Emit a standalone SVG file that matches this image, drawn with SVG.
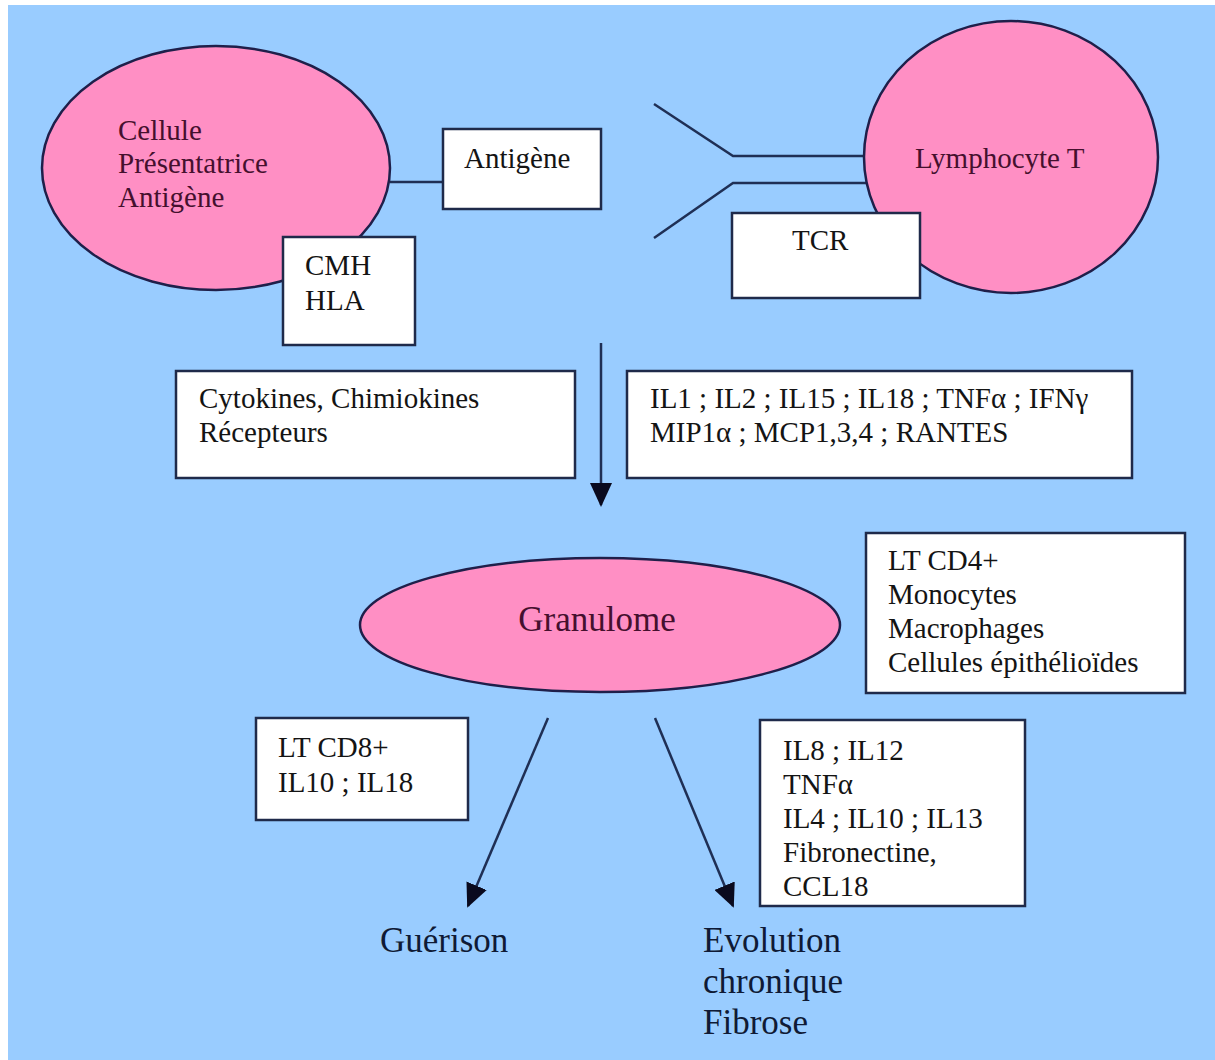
<svg xmlns="http://www.w3.org/2000/svg" width="1215" height="1060" viewBox="0 0 1215 1060">
<defs>
<marker id="ah" markerWidth="24" markerHeight="22" refX="22" refY="11" orient="auto" markerUnits="userSpaceOnUse">
<path d="M0,0 L24,11 L0,22 Z" fill="#0a0a1e"/>
</marker>
<style>
.bg{fill:#99ccff}
.cell{fill:#ff8fc4;stroke:#1f1f4a;stroke-width:2.5}
.box{fill:#ffffff;stroke:#1f2a4a;stroke-width:2.5}
.ln{fill:none;stroke:#1f2f55;stroke-width:2.5}
.t{font-family:"Liberation Serif","Times New Roman",serif;font-size:29px;fill:#141414}
.tc{font-family:"Liberation Serif","Times New Roman",serif;font-size:29px;fill:#45102e}
.tb{font-family:"Liberation Serif","Times New Roman",serif;font-size:35px;fill:#0f1a35}
</style>
</defs>
<rect x="0" y="0" width="1215" height="1060" fill="#ffffff"/>
<rect class="bg" x="8" y="5" width="1207" height="1055"/>
<g id="connectors">
<line class="ln" x1="390" y1="182" x2="443" y2="182"/>
<polyline class="ln" points="654,104 733,156 866,156"/>
<polyline class="ln" points="654,238 733,183 867,183"/>
<line class="ln" x1="601" y1="343" x2="601" y2="505" marker-end="url(#ah)"/>
<line class="ln" x1="548" y1="718" x2="468" y2="906" marker-end="url(#ah)"/>
<line class="ln" x1="655" y1="718" x2="733" y2="906" marker-end="url(#ah)"/>
</g>
<g id="cpa">
<ellipse class="cell" cx="216" cy="168" rx="174" ry="122"/>
<text class="tc" x="118" y="140">Cellule</text>
<text class="tc" x="118" y="173">Présentatrice</text>
<text class="tc" x="118" y="207">Antigène</text>
</g>
<g id="cmh">
<rect class="box" x="283" y="237" width="132" height="108"/>
<text class="t" x="305" y="275">CMH</text>
<text class="t" x="305" y="310">HLA</text>
</g>
<g id="antigene">
<rect class="box" x="443" y="129" width="158" height="80"/>
<text class="t" x="464" y="168">Antigène</text>
</g>
<g id="lymphocyte">
<ellipse class="cell" cx="1011" cy="157" rx="147" ry="136"/>
<text class="tc" x="915" y="168">Lymphocyte T</text>
</g>
<g id="tcr">
<rect class="box" x="732" y="213" width="188" height="85"/>
<text class="t" x="792" y="250">TCR</text>
</g>
<g id="cytokines">
<rect class="box" x="176" y="371" width="399" height="107"/>
<text class="t" x="199" y="408">Cytokines, Chimiokines</text>
<text class="t" x="199" y="442">Récepteurs</text>
</g>
<g id="interleukines">
<rect class="box" x="627" y="371" width="505" height="107"/>
<text class="t" x="650" y="408">IL1 ; IL2 ; IL15 ; IL18 ; TNFα ; IFNγ</text>
<text class="t" x="650" y="442">MIP1α ; MCP1,3,4 ; RANTES</text>
</g>
<g id="granulome">
<ellipse class="cell" cx="600" cy="625" rx="240" ry="67"/>
<text class="tc" x="597" y="631" text-anchor="middle" style="font-size:35px">Granulome</text>
</g>
<g id="cd4">
<rect class="box" x="866" y="533" width="319" height="160"/>
<text class="t" x="888" y="570">LT CD4+</text>
<text class="t" x="888" y="604">Monocytes</text>
<text class="t" x="888" y="638">Macrophages</text>
<text class="t" x="888" y="672">Cellules épithélioïdes</text>
</g>
<g id="cd8">
<rect class="box" x="256" y="718" width="212" height="102"/>
<text class="t" x="278" y="757">LT CD8+</text>
<text class="t" x="278" y="792">IL10 ; IL18</text>
</g>
<g id="il8">
<rect class="box" x="760" y="720" width="265" height="186"/>
<text class="t" x="783" y="760">IL8 ; IL12</text>
<text class="t" x="783" y="794">TNFα</text>
<text class="t" x="783" y="828">IL4 ; IL10 ; IL13</text>
<text class="t" x="783" y="862">Fibronectine,</text>
<text class="t" x="783" y="896">CCL18</text>
</g>
<g id="guerison">
<text class="tb" x="380" y="952">Guérison</text>
</g>
<g id="evolution">
<text class="tb" x="703" y="952">Evolution</text>
<text class="tb" x="703" y="993">chronique</text>
<text class="tb" x="703" y="1034">Fibrose</text>
</g>
</svg>
